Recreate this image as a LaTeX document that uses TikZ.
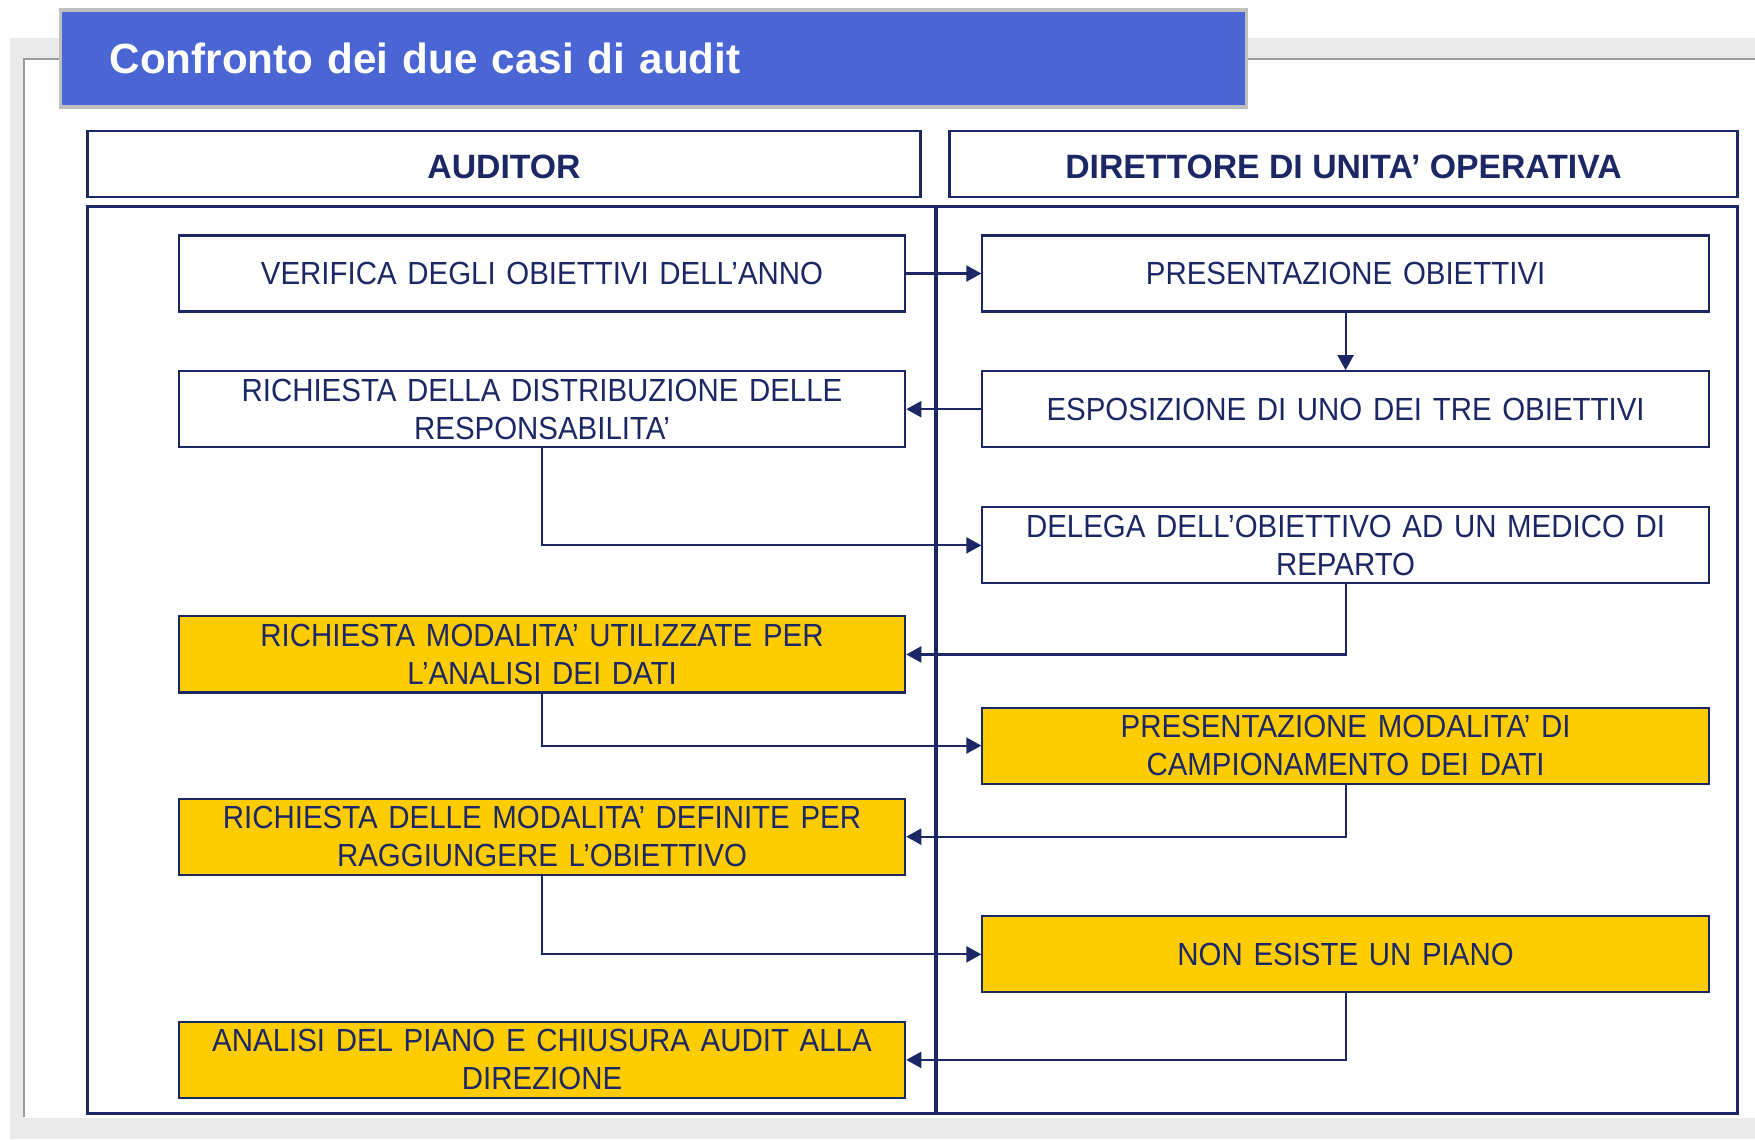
\documentclass[tikz,border=0pt]{standalone}
\usepackage{fontspec}
\setmainfont{Liberation Sans}
\newfontfamily\boxfont[FakeStretch=0.92]{Liberation Sans}
\usepackage{tikz}
\usetikzlibrary{arrows.meta, positioning}
\definecolor{navy}{HTML}{1C2765}
\definecolor{gold}{HTML}{FFCC00}
\definecolor{titleblue}{HTML}{4A66D4}
\definecolor{bggray}{HTML}{EAEAEA}
\definecolor{framegray}{HTML}{9A9A9A}
\definecolor{titleborder}{HTML}{C0C0C0}
\tikzstyle{titlebar} = [rectangle, fill=titleblue, draw=titleborder, line width=0.9pt, minimum width=11.85cm, minimum height=0.97cm, text width=10.87cm, inner xsep=0.49cm, align=left, text=white, font=\bfseries\fontsize{12}{14}\selectfont]
\tikzstyle{header} = [rectangle, draw=navy, line width=0.8pt, minimum height=0.66cm, text centered, text height=8.2pt, text depth=0pt, text=navy, font=\bfseries\fontsize{9.6}{11}\selectfont]
\tikzstyle{lane} = [rectangle, draw=navy, line width=0.8pt, minimum height=9.06cm]
\tikzstyle{task} = [rectangle, draw=navy, line width=0.6pt, minimum width=7.26cm, minimum height=0.76cm, text width=7.1cm, inner sep=0pt, align=center, text=navy, font=\boxfont\fontsize{9.1}{10.8}\selectfont]
\tikzstyle{hot} = [task, fill=gold]
\tikzstyle{arrow} = [line width=0.6pt, draw=navy, -{Triangle[length=0.15cm, width=0.16cm]}]

\begin{document}
\begin{tikzpicture}[x=0.01cm, y=-0.01cm]
\useasboundingbox (0,0) rectangle (1755,1139);
% slide frame
\fill [bggray] (10,38) rectangle (1755,1139);
\fill [white] (24,59) rectangle (1755,1118);
\draw [framegray, line width=0.6pt] (24,1117) |- (1755,59);
\node (title) [titlebar] at (653.5,58.5) {Confronto dei due casi di audit};
% lanes
\node (audhead) [header, minimum width=8.32cm] at (504,164) {AUDITOR};
\node (dirhead) [header, minimum width=7.87cm] at (1343.5,164) {DIRETTORE DI UNITA’ OPERATIVA};
\node (audlane) [lane, minimum width=8.48cm] at (512,660) {};
\node (dirlane) [lane, minimum width=8.01cm] at (1336.5,660) {};
% steps
\node (verifica) [task] at (542,273.5) {VERIFICA DEGLI OBIETTIVI DELL’ANNO};
\node (presob) [task, right=0.75cm of verifica] {PRESENTAZIONE OBIETTIVI};
\node (esposiz) [task, below=0.575cm of presob] {ESPOSIZIONE DI UNO DEI TRE OBIETTIVI};
\node (distrib) [task, left=0.75cm of esposiz] {RICHIESTA DELLA DISTRIBUZIONE DELLE\\RESPONSABILITA’};
\node (delega) [task, below=0.58cm of esposiz] {DELEGA DELL’OBIETTIVO AD UN MEDICO DI\\REPARTO};
\node (modanalisi) [hot, below=1.67cm of distrib] {RICHIESTA MODALITA’ UTILIZZATE PER\\L’ANALISI DEI DATI};
\node (campion) [hot, below=1.22cm of delega] {PRESENTAZIONE MODALITA’ DI\\CAMPIONAMENTO DEI DATI};
\node (moddef) [hot, below=1.04cm of modanalisi] {RICHIESTA DELLE MODALITA’ DEFINITE PER\\RAGGIUNGERE L’OBIETTIVO};
\node (nopiano) [hot, below=1.305cm of campion] {NON ESISTE UN PIANO};
\node (chiusura) [hot, below=1.45cm of moddef] {ANALISI DEL PIANO E CHIUSURA AUDIT ALLA\\DIREZIONE};
\draw [arrow] (verifica) -- (presob);
\draw [arrow] (presob) -- (esposiz);
\draw [arrow] (esposiz) -- (distrib);
\draw [arrow] (distrib) |- (delega);
\draw [arrow] (delega) |- (modanalisi);
\draw [arrow] (modanalisi) |- (campion);
\draw [arrow] (campion) |- (moddef);
\draw [arrow] (moddef) |- (nopiano);
\draw [arrow] (nopiano) |- (chiusura);
\end{tikzpicture}
\end{document}
